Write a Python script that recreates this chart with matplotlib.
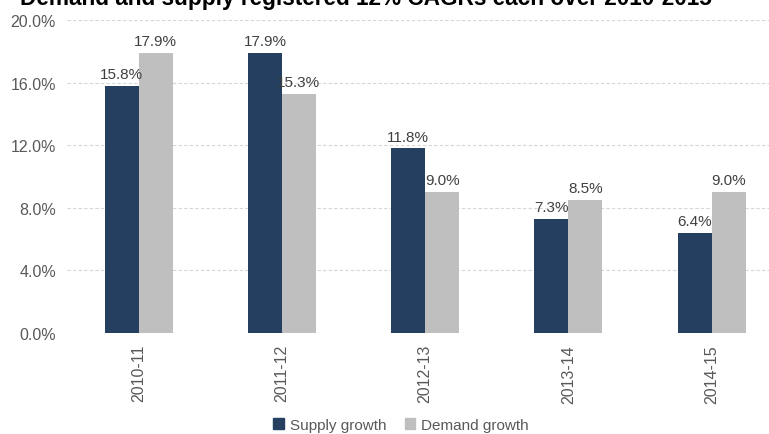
import numpy as np
from matplotlib import pyplot as plt
from matplotlib.patches import Patch

plt.rcParams['font.family'] = ['Liberation Sans Narrow', 'Liberation Sans', 'DejaVu Sans']

years = ['2010-11', '2011-12', '2012-13', '2013-14', '2014-15']
supply = [15.8, 17.9, 11.8, 7.3, 6.4]
demand = [17.9, 15.3, 9.0, 8.5, 9.0]
yticks = [0, 4, 8, 12, 16, 20]

navy = '#243f60'
grey = '#bfbfbf'
txt = '#595959'

fig = plt.figure(figsize=(7.69, 4.35), dpi=100)
ax = fig.add_axes([67 / 769, 1 - 334 / 435, 1 - 67 / 769, (334 - 21) / 435])

x = np.arange(len(years))
w = 0.237
b1 = ax.bar(x - w / 2, supply, w, color=navy, label='Supply growth')
b2 = ax.bar(x + w / 2, demand, w, color=grey, label='Demand growth')

for bars, vals in ((b1, supply), (b2, demand)):
    for r, v in zip(bars, vals):
        ax.text(r.get_x() + r.get_width() / 2, v + 0.3, f'{v:.1f}%',
                ha='center', va='bottom', fontsize=11, color='#404040')

ax.set_xlim(-0.5, 4.4)
ax.set_ylim(0, 20)
ax.set_yticks(yticks)
ax.set_yticklabels([f'{t:.1f}%' for t in yticks], fontsize=11.5, color=txt)
ax.set_xticks(x)
ax.set_xticklabels(years, rotation=90, fontsize=11.5, color=txt)
ax.tick_params(length=0, pad=8)
ax.yaxis.grid(True, color='#d6d6d6', linestyle=(0, (3, 2)), linewidth=0.8)
ax.set_axisbelow(True)
for s in ax.spines.values():
    s.set_visible(False)

fig.text(20 / 769, 1 - 5 / 435, 'Demand and supply registered 12% CAGRs each over 2010-2015',
         fontsize=16.3, fontweight='bold', family=['Liberation Sans', 'DejaVu Sans'],
         ha='left', va='baseline')

handles = [Patch(color=navy), Patch(color=grey)]
fig.legend(handles, ['Supply growth', 'Demand growth'], loc='center',
           bbox_to_anchor=(401 / 769, 1 - 426 / 435), ncol=2, frameon=False,
           fontsize=11, handlelength=0.7, handleheight=0.7, handletextpad=0.4,
           columnspacing=1.2, labelcolor=txt)

fig.savefig('out.png', dpi=100)
